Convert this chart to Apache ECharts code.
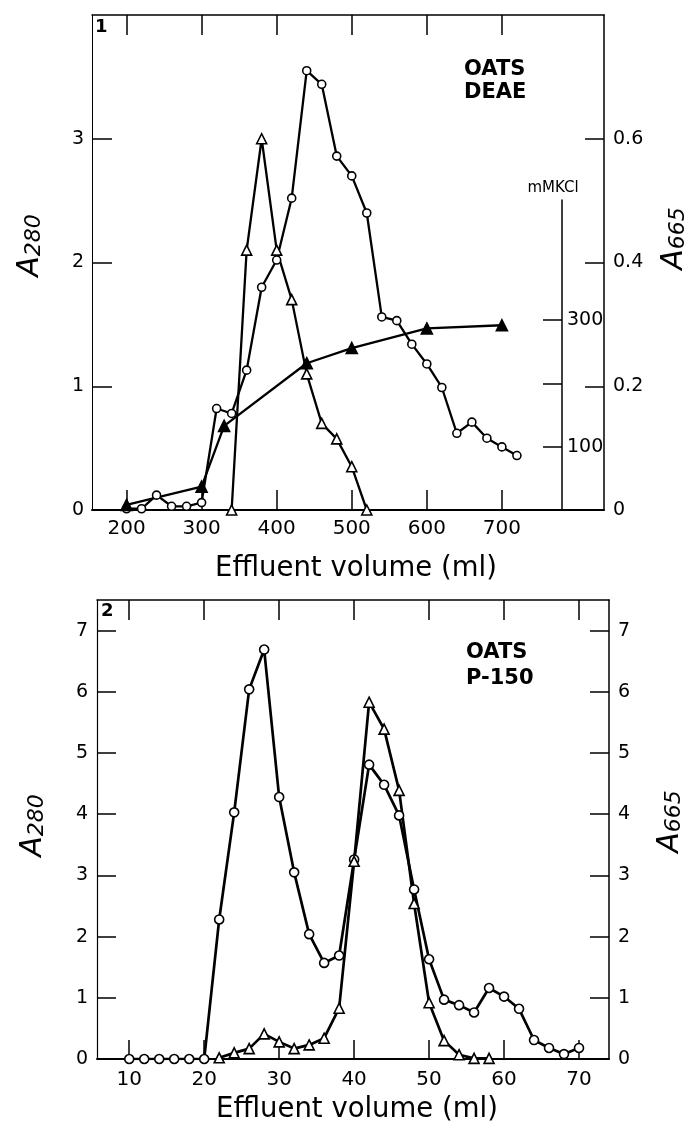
<!DOCTYPE html>
<html><head><meta charset="utf-8">
<script src="https://cdn.jsdelivr.net/npm/echarts@6/dist/echarts.min.js"></script>
<style>html,body{margin:0;padding:0;background:#fff}#c{width:698px;height:1132px}</style>
</head><body><div id="c"></div>
<script>
// ---------- Panel 1: OATS DEAE ----------
const deaeVolumeTicks = [200, 300, 400, 500, 600, 700];
const deaeA280Ticks = [0, 1, 2, 3];
const deaeA665Ticks = [0, 0.2, 0.4, 0.6];
const kclTicks = [100, 200, 300];
const kclLabels = [100, 300];

const deaeCircleVolume = [200, 220, 240, 260, 280, 300, 320, 340, 360, 380, 400, 420, 440, 460, 480, 500, 520, 540, 560, 580, 600, 620, 640, 660, 680, 700, 720];
const deaeCircleA280 = [0.01, 0.01, 0.12, 0.03, 0.03, 0.06, 0.82, 0.78, 1.13, 1.80, 2.02, 2.52, 3.55, 3.44, 2.86, 2.70, 2.40, 1.56, 1.53, 1.34, 1.18, 0.99, 0.62, 0.71, 0.58, 0.51, 0.44];

const deaeTriangleVolume = [340, 360, 380, 400, 420, 440, 460, 480, 500, 520];
const deaeTriangleA665 = [0, 0.42, 0.60, 0.42, 0.34, 0.22, 0.14, 0.115, 0.07, 0];

const kclVolume = [200, 300, 330, 440, 500, 600, 700];
const kclMM = [8, 37, 133, 232, 256, 287, 292];

// ---------- Panel 2: OATS P-150 ----------
const p150VolumeTicks = [10, 20, 30, 40, 50, 60, 70];
const p150YTicks = [0, 1, 2, 3, 4, 5, 6, 7];

const p150CircleVolume = [10, 12, 14, 16, 18, 20, 22, 24, 26, 28, 30, 32, 34, 36, 38, 40, 42, 44, 46, 48, 50, 52, 54, 56, 58, 60, 62, 64, 66, 68, 70];
const p150CircleA280 = [0, 0, 0, 0, 0, 0, 2.28, 4.03, 6.04, 6.69, 4.28, 3.05, 2.04, 1.57, 1.69, 3.26, 4.81, 4.48, 3.98, 2.77, 1.63, 0.97, 0.88, 0.76, 1.16, 1.02, 0.82, 0.31, 0.18, 0.08, 0.18];

const p150TriangleVolume = [22, 24, 26, 28, 30, 32, 34, 36, 38, 40, 42, 44, 46, 48, 50, 52, 54, 56, 58];
const p150TriangleA665 = [0.02, 0.10, 0.17, 0.41, 0.28, 0.17, 0.23, 0.34, 0.83, 3.23, 5.83, 5.39, 4.39, 2.54, 0.92, 0.30, 0.07, 0.01, 0.01];

const zip = (xs, ys) => xs.map((x, i) => [x, ys[i]]);

const FONT = 'DejaVu Sans';
const black = '#000';

function nameRich() {
  return {
    a: {fontFamily: FONT, fontSize: 30, fontStyle: 'italic', color: black, lineHeight: 30, verticalAlign: 'top'},
    b: {fontFamily: FONT, fontSize: 22, fontStyle: 'italic', color: black, lineHeight: 22, padding: [12, 0, 0, 0], verticalAlign: 'bottom'}
  };
}

function xAxisBase(gridIndex, pos, min, max, ticks, showLabels, lineW) {
  return {
    type: 'value', gridIndex, position: pos, min, max,
    axisLine: {show: true, onZero: false, lineStyle: {color: black, width: lineW}},
    axisTick: {show: true, inside: true, length: 20, customValues: ticks, lineStyle: {color: black, width: 1.5}},
    axisLabel: {show: showLabels, customValues: ticks, fontFamily: FONT, fontSize: 20, color: black, margin: 9},
    splitLine: {show: false}
  };
}

function yAxisBase(gridIndex, pos, min, max, ticks, labels, lineW, fmt) {
  return {
    type: 'value', gridIndex, position: pos, min, max,
    axisLine: {show: true, onZero: false, lineStyle: {color: black, width: lineW}},
    axisTick: {show: true, inside: true, length: 19, customValues: ticks, lineStyle: {color: black, width: 1.5}},
    axisLabel: {show: true, customValues: labels, fontFamily: FONT, fontSize: 19, color: black, margin: 9, formatter: fmt},
    splitLine: {show: false}
  };
}

const fmt1 = v => (v === 0 ? '0' : v.toFixed(1));
const fmt0 = v => String(v);

const xDeae = xAxisBase(0, 'bottom', 154, 836, deaeVolumeTicks, true, 2);
xDeae.name = 'Effluent volume (ml)';
xDeae.nameLocation = 'middle';
xDeae.nameGap = 45;
xDeae.nameTextStyle = {fontFamily: FONT, fontSize: 27.5, color: black, verticalAlign: 'top', padding: [0, 0, 0, 16]};

const xDeaeTop = xAxisBase(0, 'top', 154, 836, deaeVolumeTicks, false, 1.5);
const xKcl = {type: 'value', gridIndex: 1, min: 154, max: 836, show: false};

const xP150 = xAxisBase(2, 'bottom', 5.7, 74, p150VolumeTicks, true, 2);
xP150.name = 'Effluent volume (ml)';
xP150.nameLocation = 'middle';
xP150.nameGap = 37;
xP150.nameTextStyle = {fontFamily: FONT, fontSize: 27.5, color: black, verticalAlign: 'top', padding: [0, 0, 0, 8]};
xP150.axisTick.length = 19;
xP150.axisLabel.margin = 11;
const xP150Top = xAxisBase(2, 'top', 5.7, 74, p150VolumeTicks, false, 1.5);

const yDeaeL = yAxisBase(0, 'left', 0, 4, deaeA280Ticks, deaeA280Ticks, 1, fmt0);
yDeaeL.axisTick.length = 20;
yDeaeL.axisLabel.margin = 8;
yDeaeL.name = '{a|A}{b|280}';
yDeaeL.nameLocation = 'middle';
yDeaeL.nameRotate = 90;
yDeaeL.nameGap = 47;
yDeaeL.nameTextStyle = {rich: nameRich(), padding: [0, 0, 0, 34]};

const yDeaeR = yAxisBase(0, 'right', 0, 0.8, deaeA665Ticks, deaeA665Ticks, 1.5, fmt1);
yDeaeR.name = '{a|A}{b|665}';
yDeaeR.nameLocation = 'middle';
yDeaeR.nameRotate = 90;
yDeaeR.nameGap = 55;
yDeaeR.nameTextStyle = {rich: nameRich(), padding: [0, 0, 0, 48]};

const yKcl = yAxisBase(1, 'right', 0, 490, kclTicks, kclLabels, 1.5, fmt0);
yKcl.offset = -42;
yKcl.axisLabel.margin = 5;
yKcl.axisLabel.fontSize = 19;
yKcl.name = 'mMKCl';
yKcl.nameLocation = 'end';
yKcl.nameGap = 4;
yKcl.nameTextStyle = {fontFamily: FONT, fontSize: 15, color: black, padding: [0, 18, 0, 0]};

const yP150L = yAxisBase(2, 'left', 0, 7.5, p150YTicks, p150YTicks, 1.2, fmt0);
yP150L.name = '{a|A}{b|280}';
yP150L.nameLocation = 'middle';
yP150L.nameRotate = 90;
yP150L.nameGap = 49;
yP150L.nameTextStyle = {rich: nameRich(), padding: [0, 0, 0, 8]};

const yP150R = yAxisBase(2, 'right', 0, 7.5, p150YTicks, p150YTicks, 1.5, fmt0);
yP150R.name = '{a|A}{b|665}';
yP150R.nameLocation = 'middle';
yP150R.nameRotate = 90;
yP150R.nameGap = 46;
yP150R.nameTextStyle = {rich: nameRich(), padding: [0, 0, 0, 16]};

function lineSeries(xi, yi, data, symbol, size, fill, lw) {
  return {
    type: 'line', xAxisIndex: xi, yAxisIndex: yi, data,
    symbol, symbolSize: size, showSymbol: true,
    lineStyle: {color: black, width: lw},
    itemStyle: {color: fill, borderColor: black, borderWidth: 1.6},
    emphasis: {disabled: true}, z: 3
  };
}

const option = {
  animation: false,
  backgroundColor: '#fff',
  textStyle: {fontFamily: FONT},
  title: [
    {text: '1', left: 95, top: 18, padding: 0, textStyle: {fontFamily: FONT, fontSize: 18, fontWeight: 'bold', color: black}},
    {text: 'OATS\nDEAE', left: 464, top: 58, padding: 0, textStyle: {fontFamily: FONT, fontSize: 21, fontWeight: 'bold', color: black, lineHeight: 23}},
    {text: '2', left: 101, top: 602, padding: 0, textStyle: {fontFamily: FONT, fontSize: 18, fontWeight: 'bold', color: black}},
    {text: 'OATS\nP-150', left: 466, top: 640, padding: 0, textStyle: {fontFamily: FONT, fontSize: 21, fontWeight: 'bold', color: black, lineHeight: 26}}
  ],
  grid: [
    {left: 92, top: 15, width: 512, height: 495, outerBoundsMode: 'none', containLabel: false},
    {left: 92, top: 200, width: 512, height: 310, outerBoundsMode: 'none', containLabel: false},
    {left: 97, top: 600, width: 512, height: 459, outerBoundsMode: 'none', containLabel: false}
  ],
  xAxis: [xDeae, xDeaeTop, xKcl, xP150, xP150Top],
  yAxis: [yDeaeL, yDeaeR, yKcl, yP150L, yP150R],
  series: [
    lineSeries(0, 0, zip(deaeCircleVolume, deaeCircleA280), 'circle', 8, '#fff', 2.3),
    lineSeries(0, 1, zip(deaeTriangleVolume, deaeTriangleA665), 'triangle', 10, '#fff', 2.3),
    lineSeries(2, 2, zip(kclVolume, kclMM), 'triangle', 11, '#000', 2.3),
    lineSeries(3, 3, zip(p150CircleVolume, p150CircleA280), 'circle', 9, '#fff', 2.7),
    lineSeries(3, 4, zip(p150TriangleVolume, p150TriangleA665), 'triangle', 10, '#fff', 2.7)
  ]
};

const chart = echarts.init(document.getElementById('c'));
chart.setOption(option);
</script>
</body></html>
